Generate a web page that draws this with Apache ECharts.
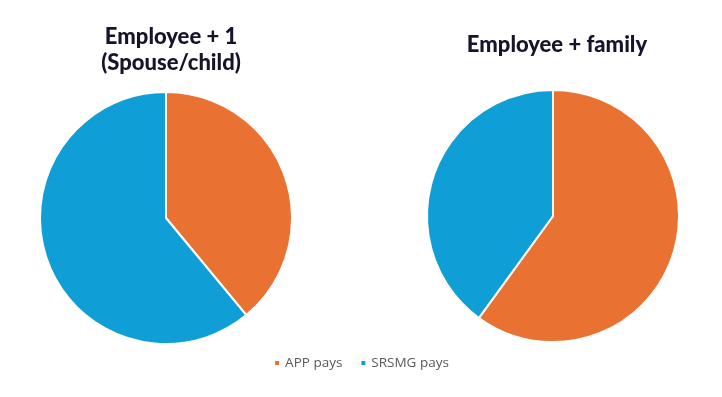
<!DOCTYPE html>
<html>
<head>
<meta charset="utf-8">
<script src="https://cdn.jsdelivr.net/npm/echarts@6/dist/echarts.min.js"></script>
<style>
  html, body { margin: 0; padding: 0; background: #fff; }
  #chart { width: 722px; height: 397px; }
</style>
</head>
<body>
<div id="chart"></div>
<script>
// 数据
const categories = ['APP pays', 'SRSMG pays'];
const chartTitles = ['Employee + 1\n(Spouse/child)', 'Employee + family'];
const plusOneValues = [39, 61];
const familyValues = [60, 40];

const colors = ['#E97132', '#0F9ED5'];

const chart = echarts.init(document.getElementById('chart'));

const makeSeries = (name, values, center) => ({
  name: name,
  type: 'pie',
  radius: [0, 126],
  center: center,
  startAngle: 90,
  clockwise: true,
  label: { show: false },
  labelLine: { show: false },
  emphasis: { disabled: true },
  itemStyle: { borderColor: '#fff', borderWidth: 2 },
  data: categories.map((c, i) => ({ name: c, value: values[i] }))
});

const titleStyle = {
  fontFamily: 'Lato',
  fontWeight: 900,
  fontSize: 22,
  color: '#16142a',
  lineHeight: 26
};

chart.setOption({
  animation: false,
  color: colors,
  title: [
    { text: chartTitles[0], left: 166, top: 19, textAlign: 'center', textStyle: titleStyle },
    { text: chartTitles[1], left: 552, top: 27, textAlign: 'center', textStyle: titleStyle }
  ],
  legend: {
    data: categories,
    top: 351,
    left: 'center',
    icon: 'rect',
    itemWidth: 6,
    itemHeight: 6,
    itemGap: 17,
    textStyle: { color: '#595959', fontSize: 13.5, fontFamily: 'Open Sans' }
  },
  series: [
    makeSeries('Employee + 1', plusOneValues, [166, 218]),
    makeSeries('Employee + family', familyValues, [553, 216])
  ]
});
</script>
</body>
</html>
